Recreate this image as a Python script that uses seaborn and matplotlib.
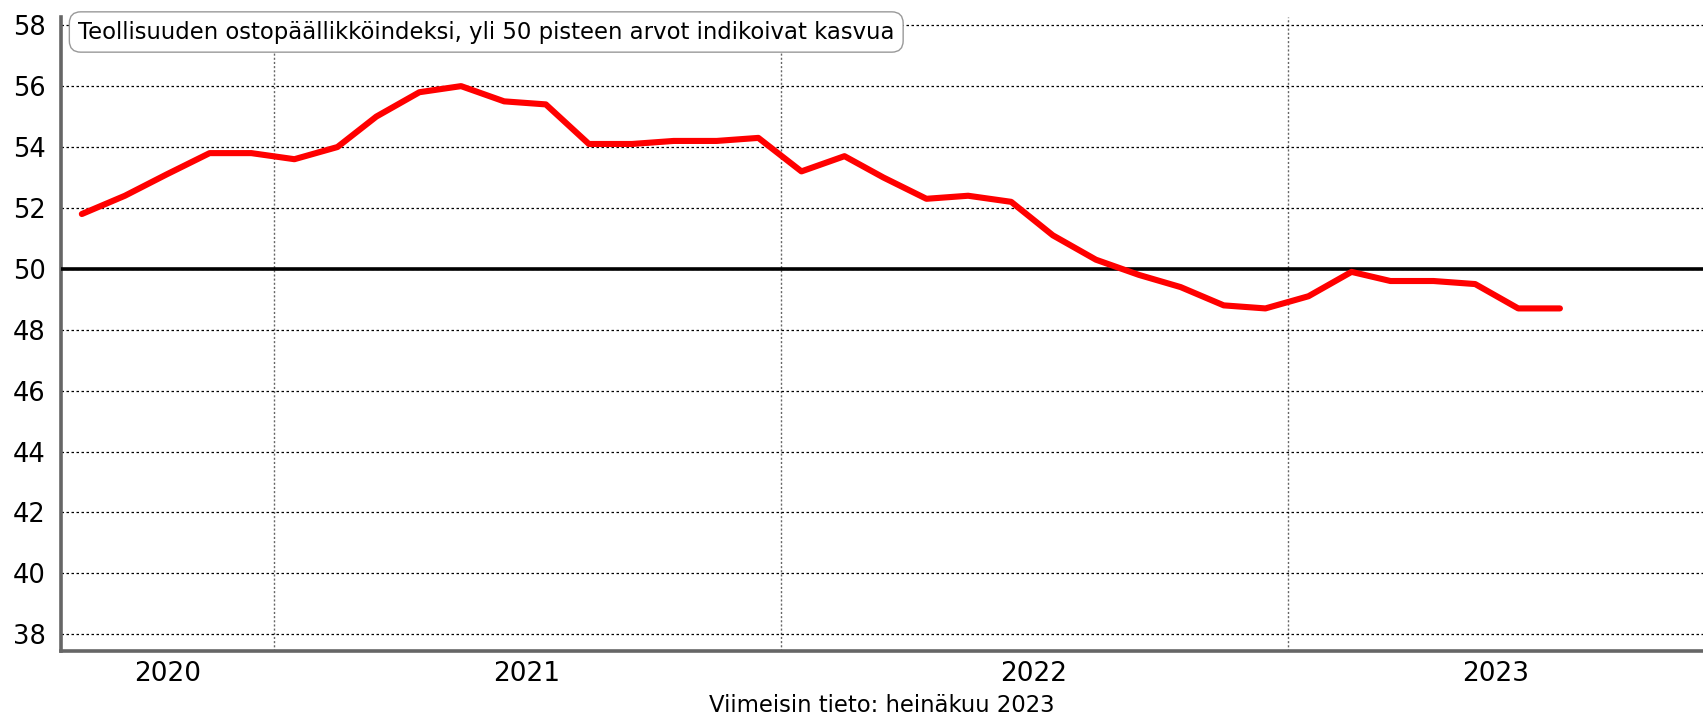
import numpy as np
import pandas as pd
import seaborn as sns
import matplotlib.pyplot as plt
import matplotlib.dates as mdates
from matplotlib.ticker import FixedLocator, FixedFormatter

# Teollisuuden ostopäällikköindeksi, elokuu 2020 - heinäkuu 2023
months = pd.date_range('2020-08-01', periods=36, freq='MS') + pd.Timedelta(days=15)
pmi = [51.8, 52.4, 53.1, 53.8, 53.8,
       53.6, 54.0, 55.0, 55.8, 56.0, 55.5, 55.4, 54.1, 54.1, 54.2, 54.2, 54.3,
       53.2, 53.7, 53.0, 52.3, 52.4, 52.2, 51.1, 50.3, 49.8, 49.4, 48.8, 48.7,
       49.1, 49.9, 49.6, 49.6, 49.5, 48.7, 48.7]
year_labels = ['2020', '2021', '2022', '2023']
threshold = 50
title_text = 'Teollisuuden ostopäällikköindeksi, yli 50 pisteen arvot indikoivat kasvua'
note_text = 'Viimeisin tieto: heinäkuu 2023'

df = pd.DataFrame({'kuukausi': months, 'indeksi': pmi})

sns.set_style('white')
plt.rcParams['font.family'] = ['DejaVu Sans']
plt.rcParams['text.color'] = 'black'
plt.rcParams['xtick.color'] = 'black'
plt.rcParams['ytick.color'] = 'black'
plt.rcParams['axes.labelcolor'] = 'black'

fig = plt.figure(figsize=(17.03, 7.18), dpi=100)
ax = fig.add_axes([61 / 1703, 1 - 651 / 718, 1 - 61 / 1703, (651 - 17) / 718])

x_start = pd.Timestamp('2020-08-01')
x_end = pd.Timestamp('2023-10-27')
ax.set_xlim(x_start, x_end)
ax.set_ylim(37.45, 58.27)

ax.set_yticks(np.arange(38, 59, 2))
ax.grid(axis='y', linestyle=(0, (2, 2)), color='black', linewidth=0.9)
ax.axhline(threshold, color='black', linewidth=2.6, zorder=3)

sns.lineplot(data=df, x='kuukausi', y='indeksi', ax=ax, color='#ff0000',
             linewidth=4.4, zorder=4, legend=False)

# year boundaries as major ticks (no label), year names centred in visible span
bounds = [pd.Timestamp(f'{y}-01-01') for y in (2021, 2022, 2023)]
edges = [x_start] + bounds + [x_end]
mids = [edges[i] + (edges[i + 1] - edges[i]) / 2 for i in range(len(edges) - 1)]
ax.xaxis.set_major_locator(FixedLocator([mdates.date2num(b) for b in bounds]))
ax.xaxis.set_major_formatter(FixedFormatter(['', '', '']))
ax.xaxis.set_minor_locator(FixedLocator([mdates.date2num(m) for m in mids]))
ax.xaxis.set_minor_formatter(FixedFormatter(year_labels))
ax.tick_params(axis='x', which='major', length=7, width=1, color='#555555', direction='out')
ax.tick_params(axis='x', which='minor', length=0, labelsize=19, pad=7)
ax.tick_params(axis='y', length=7, width=1, color='#444444', labelsize=18.5, pad=4)
ax.grid(axis='x', which='major', linestyle=(0, (1.5, 1.5)), color='#666666', linewidth=1.0)

ax.set_xlabel(note_text, fontsize=16.4, labelpad=5)
ax.set_ylabel('')

for side in ['top', 'right']:
    ax.spines[side].set_visible(False)
for side in ['left', 'bottom']:
    ax.spines[side].set_color('#666666')
    ax.spines[side].set_linewidth(2.6)

fig.text(78 / 1703, 1 - 32 / 718, title_text, fontsize=16.4, va='center', ha='left',
         bbox=dict(boxstyle='round,pad=0.38,rounding_size=0.5', fc='white', ec='#999999', lw=1))

fig.savefig('out.png', dpi=100)
